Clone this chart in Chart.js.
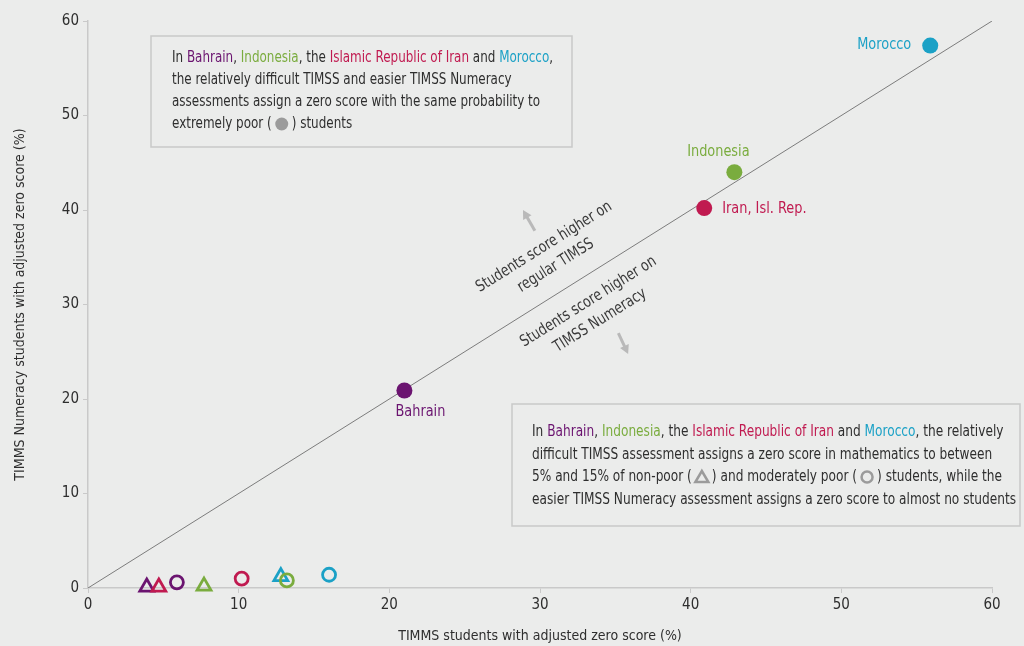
<!DOCTYPE html>
<html>
<head>
<meta charset="utf-8">
<script src="https://cdn.jsdelivr.net/npm/chart.js@4"></script>
<style>
  body { margin: 0; background: #ebeceb; }
  canvas { display: block; }
</style>
</head>
<body>
<canvas id="zeroChart" width="1024" height="646"></canvas>
<script>
// values
var countries = ['Bahrain', 'Indonesia', 'Iran, Isl. Rep.', 'Morocco'];
var extremePoorX = [21.0, 42.9, 40.9, 55.9];
var extremePoorY = [20.9, 44.0, 40.2, 57.4];
var nonPoorX = [3.9, 7.7, 4.7, 12.8];
var nonPoorY = [0.1, 0.2, 0.1, 1.2];
var moderatePoorX = [5.9, 13.2, 10.2, 16.0];
var moderatePoorY = [0.6, 0.8, 1.0, 1.4];
var equalLine = [0, 60];
var tickValues = [0, 10, 20, 30, 40, 50, 60];

var countryColors = ['#6b1470', '#7aac3e', '#c01a50', '#1ba1c6'];
var textColor = '#2e2e2e';
var fontFamily = "'Liberation Sans Narrow', 'DejaVu Sans Condensed', sans-serif";

// pixel offsets of the country labels from their dot
var labelOffsets = [
    { dx: 16, dy: 21, align: 'center' },
    { dx: -16, dy: -20, align: 'center' },
    { dx: 18, dy: 1, align: 'left' },
    { dx: -19, dy: -1, align: 'right' }
];

function toPoints(xs, ys) {
    var points = [];
    for (var i = 0; i < xs.length; i++) {
        points.push({ x: xs[i], y: ys[i] });
    }
    return points;
}

function font(size) {
    return size + 'px ' + fontFamily;
}

// draws text squeezed horizontally by k, returns the width used
function squeezedText(ctx, text, x, y, k) {
    ctx.save();
    ctx.translate(x, y);
    ctx.scale(k, 1);
    ctx.fillText(text, 0, 0);
    ctx.restore();
    return ctx.measureText(text).width * k;
}

function drawGlyph(ctx, shape, x, y) {
    ctx.save();
    ctx.fillStyle = '#9b9b9b';
    ctx.strokeStyle = '#9b9b9b';
    ctx.lineWidth = 2.5;
    ctx.beginPath();
    if (shape == 'dot') {
        ctx.arc(x, y, 6.5, 0, Math.PI * 2);
        ctx.fill();
    } else if (shape == 'ring') {
        ctx.arc(x, y, 5.5, 0, Math.PI * 2);
        ctx.stroke();
    } else {
        ctx.moveTo(x, y - 6);
        ctx.lineTo(x + 6.5, y + 5);
        ctx.lineTo(x - 6.5, y + 5);
        ctx.closePath();
        ctx.stroke();
    }
    ctx.restore();
}

function lineWidth(ctx, segments) {
    var w = 0;
    for (var s of segments) {
        w += s.shape ? 0 : ctx.measureText(s.t).width;
    }
    return w;
}

function drawRichLine(ctx, x, y, segments, k) {
    var cx = x;
    for (var s of segments) {
        if (s.shape) {
            drawGlyph(ctx, s.shape, cx + 10, y);
            cx += 20;
        } else {
            ctx.fillStyle = s.c || textColor;
            cx += squeezedText(ctx, s.t, cx, y, k);
        }
    }
}

function countryRun(prefix) {
    return [
        { t: prefix }, { t: 'Bahrain', c: countryColors[0] }, { t: ', ' },
        { t: 'Indonesia', c: countryColors[1] }, { t: ', the ' },
        { t: 'Islamic Republic of Iran', c: countryColors[2] }, { t: ' and ' },
        { t: 'Morocco', c: countryColors[3] }
    ];
}

var box1Lines = [
    countryRun('In ').concat([{ t: ',' }]),
    [{ t: 'the relatively difficult TIMSS and easier TIMSS Numeracy' }],
    [{ t: 'assessments assign a zero score with the same probability to' }],
    [{ t: 'extremely poor (' }, { shape: 'dot' }, { t: ') students' }]
];

var box2Lines = [
    countryRun('In ').concat([{ t: ', the relatively' }]),
    [{ t: 'difficult TIMSS assessment assigns a zero score in mathematics to between' }],
    [{ t: '5% and 15% of non-poor (' }, { shape: 'tri' }, { t: ') and moderately poor (' }, { shape: 'ring' }, { t: ') students, while the' }],
    [{ t: 'easier TIMSS Numeracy assessment assigns a zero score to almost no students' }]
];

function drawArrow(ctx, x1, y1, x2, y2) {
    var ang = Math.atan2(y2 - y1, x2 - x1);
    ctx.save();
    ctx.strokeStyle = '#b9b9b9';
    ctx.fillStyle = '#b9b9b9';
    ctx.lineWidth = 3;
    ctx.beginPath();
    ctx.moveTo(x1, y1);
    ctx.lineTo(x2 - Math.cos(ang) * 6, y2 - Math.sin(ang) * 6);
    ctx.stroke();
    ctx.beginPath();
    ctx.moveTo(x2, y2);
    ctx.lineTo(x2 - Math.cos(ang - 0.5) * 10, y2 - Math.sin(ang - 0.5) * 10);
    ctx.lineTo(x2 - Math.cos(ang + 0.5) * 10, y2 - Math.sin(ang + 0.5) * 10);
    ctx.closePath();
    ctx.fill();
    ctx.restore();
}

function drawRotatedBlock(ctx, cx, cy, angle, lines, k) {
    ctx.save();
    ctx.translate(cx, cy);
    ctx.rotate(angle);
    ctx.scale(k, 1);
    ctx.fillStyle = '#3a3a3a';
    ctx.textAlign = 'center';
    ctx.textBaseline = 'middle';
    ctx.font = font(16);
    ctx.fillText(lines[0], 0, -11);
    ctx.fillText(lines[1], 0, 11);
    ctx.restore();
}

var annotationPlugin = {
    id: 'annotations',
    afterDatasetsDraw: function (chart) {
        var ctx = chart.ctx;
        var xs = chart.scales.x;
        var ys = chart.scales.y;

        ctx.save();
        ctx.font = font(16);
        // squeeze factors so the lines match the reference widths
        var k1 = 381 / lineWidth(ctx, box1Lines[0]);
        var k2 = 484 / lineWidth(ctx, box2Lines[3]);
        var kRot = 157 / ctx.measureText('Students score higher on').width;
        var kLab = 54 / ctx.measureText('Morocco').width;

        // country labels next to the filled dots
        ctx.textBaseline = 'middle';
        ctx.textAlign = 'left';
        for (var i = 0; i < countries.length; i++) {
            var px = xs.getPixelForValue(extremePoorX[i]) + labelOffsets[i].dx;
            var py = ys.getPixelForValue(extremePoorY[i]) + labelOffsets[i].dy;
            var w = ctx.measureText(countries[i]).width * kLab;
            if (labelOffsets[i].align == 'center') px -= w / 2;
            if (labelOffsets[i].align == 'right') px -= w;
            ctx.fillStyle = countryColors[i];
            squeezedText(ctx, countries[i], px, py, kLab);
        }

        // note boxes
        ctx.strokeStyle = '#c9c9c9';
        ctx.lineWidth = 1.5;
        ctx.strokeRect(151, 36, 421, 111);
        ctx.strokeRect(512, 404, 508, 122);
        for (var j = 0; j < box1Lines.length; j++) {
            drawRichLine(ctx, 172, 58 + j * 22, box1Lines[j], k1);
        }
        for (var m = 0; m < box2Lines.length; m++) {
            drawRichLine(ctx, 532, 432 + m * 22.5, box2Lines[m], k2);
        }
        ctx.restore();

        // rotated hints on either side of the equality line
        var slope = Math.atan2(ys.getPixelForValue(60) - ys.getPixelForValue(0),
                               xs.getPixelForValue(60) - xs.getPixelForValue(0));
        ctx.save();
        ctx.font = font(16);
        drawRotatedBlock(ctx, xs.getPixelForValue(30.66), ys.getPixelForValue(35.1), slope,
                         ['Students score higher on', 'regular TIMSS'], kRot);
        drawRotatedBlock(ctx, xs.getPixelForValue(33.6), ys.getPixelForValue(29.3), slope,
                         ['Students score higher on', 'TIMSS Numeracy'], kRot);
        ctx.restore();
        drawArrow(ctx, xs.getPixelForValue(29.66), ys.getPixelForValue(37.8),
                  xs.getPixelForValue(28.87), ys.getPixelForValue(40.0));
        drawArrow(ctx, xs.getPixelForValue(35.2), ys.getPixelForValue(26.98),
                  xs.getPixelForValue(35.85), ys.getPixelForValue(24.76));
    }
};

function drawChart() {
    var ctx = document.getElementById('zeroChart').getContext('2d');
    Chart.defaults.font.family = fontFamily;

    new Chart(ctx, {
        type: 'scatter',
        data: {
            datasets: [
                {
                    label: 'Moderately poor',
                    data: toPoints(moderatePoorX, moderatePoorY),
                    pointStyle: 'circle',
                    pointRadius: 6.5,
                    pointBackgroundColor: 'rgba(0,0,0,0)',
                    pointBorderColor: countryColors,
                    pointBorderWidth: 2.8,
                    clip: false,
                    order: 1
                },
                {
                    label: 'Non-poor',
                    data: toPoints(nonPoorX, nonPoorY),
                    pointStyle: 'triangle',
                    pointRadius: 8,
                    pointBackgroundColor: 'rgba(0,0,0,0)',
                    pointBorderColor: countryColors,
                    pointBorderWidth: 2.8,
                    clip: false,
                    order: 2
                },
                {
                    label: 'Extremely poor',
                    data: toPoints(extremePoorX, extremePoorY),
                    pointStyle: 'circle',
                    pointRadius: 8,
                    pointBackgroundColor: countryColors,
                    pointBorderWidth: 0,
                    clip: false,
                    order: 0
                },
                {
                    type: 'line',
                    label: 'Equal',
                    data: toPoints(equalLine, equalLine),
                    borderColor: '#7c7c7c',
                    borderWidth: 1,
                    pointRadius: 0,
                    showLine: true,
                    order: 5
                }
            ]
        },
        options: {
            responsive: false,
            animation: false,
            layout: { padding: { left: 0, right: 32, top: 21, bottom: 0 } },
            plugins: {
                legend: { display: false },
                tooltip: { enabled: false }
            },
            scales: {
                x: {
                    type: 'linear',
                    min: 0,
                    max: 60,
                    afterBuildTicks: function (axis) {
                        axis.ticks = tickValues.map(function (v) { return { value: v }; });
                    },
                    afterFit: function (axis) { axis.height = 58; },
                    ticks: { color: textColor, font: { size: 15 }, padding: 3 },
                    grid: { drawOnChartArea: false, color: '#c9c9c9', tickLength: 5 },
                    border: { color: '#c9c9c9', width: 1.5 },
                    title: {
                        display: true,
                        text: 'TIMMS students with adjusted zero score (%)',
                        color: textColor,
                        font: { size: 14 },
                        padding: { top: 0, bottom: 1 }
                    }
                },
                y: {
                    type: 'linear',
                    min: 0,
                    max: 60,
                    afterBuildTicks: function (axis) {
                        axis.ticks = tickValues.map(function (v) { return { value: v }; });
                    },
                    afterFit: function (axis) { axis.width = 88; },
                    ticks: { color: textColor, font: { size: 15 }, padding: 4 },
                    grid: { drawOnChartArea: false, color: '#c9c9c9', tickLength: 5 },
                    border: { color: '#c9c9c9', width: 1.5 },
                    title: {
                        display: true,
                        text: 'TIMMS Numeracy students with adjusted zero score (%)',
                        color: textColor,
                        font: { size: 14 },
                        padding: { top: 12, bottom: 0 }
                    }
                }
            }
        },
        plugins: [annotationPlugin]
    });
}

drawChart();
</script>
</body>
</html>
